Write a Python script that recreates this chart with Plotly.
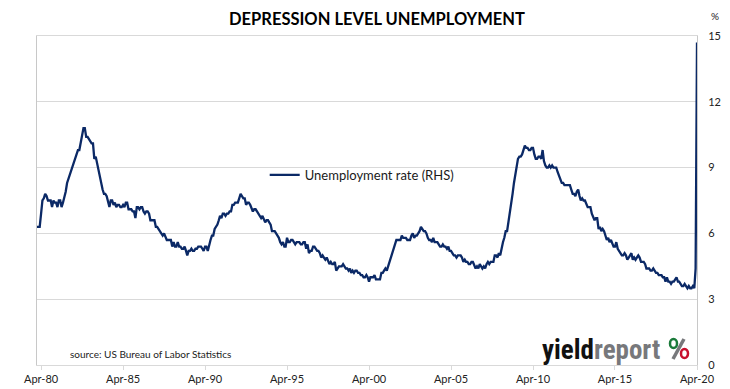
import pandas as pd
import plotly.graph_objects as go

# US unemployment rate, monthly, Jan 1980 - Apr 2020 (%)
u1980 = [6.3, 6.3, 6.3, 6.9, 7.5, 7.6, 7.8, 7.7, 7.5, 7.5, 7.5, 7.2]
u1981 = [7.5, 7.4, 7.4, 7.2, 7.5, 7.5, 7.2, 7.4, 7.6, 7.9, 8.3, 8.5]
u1982 = [8.6, 8.9, 9.0, 9.3, 9.4, 9.6, 9.8, 9.8, 10.1, 10.4, 10.8, 10.8]
u1983 = [10.4, 10.4, 10.3, 10.2, 10.1, 10.1, 9.4, 9.5, 9.2, 8.8, 8.5, 8.3]
u1984 = [8.0, 7.8, 7.8, 7.7, 7.4, 7.2, 7.5, 7.5, 7.3, 7.4, 7.2, 7.3]
u1985 = [7.3, 7.2, 7.2, 7.3, 7.2, 7.4, 7.4, 7.1, 7.1, 7.1, 7.0, 7.0]
u1986 = [6.7, 7.2, 7.2, 7.1, 7.2, 7.2, 7.0, 6.9, 7.0, 7.0, 6.9, 6.6]
u1987 = [6.6, 6.6, 6.6, 6.3, 6.3, 6.2, 6.1, 6.0, 5.9, 6.0, 5.8, 5.7]
u1988 = [5.7, 5.7, 5.7, 5.4, 5.6, 5.4, 5.4, 5.6, 5.4, 5.4, 5.3, 5.3]
u1989 = [5.4, 5.2, 5.0, 5.2, 5.2, 5.3, 5.2, 5.2, 5.3, 5.3, 5.4, 5.4]
u1990 = [5.4, 5.3, 5.2, 5.4, 5.4, 5.2, 5.5, 5.7, 5.9, 5.9, 6.2, 6.3]
u1991 = [6.4, 6.6, 6.8, 6.7, 6.9, 6.9, 6.8, 6.9, 6.9, 7.0, 7.0, 7.3]
u1992 = [7.3, 7.4, 7.4, 7.4, 7.6, 7.8, 7.7, 7.6, 7.6, 7.3, 7.4, 7.4]
u1993 = [7.3, 7.1, 7.0, 7.1, 7.1, 7.0, 6.9, 6.8, 6.7, 6.8, 6.6, 6.5]
u1994 = [6.6, 6.6, 6.5, 6.4, 6.1, 6.1, 6.1, 6.0, 5.9, 5.8, 5.6, 5.5]
u1995 = [5.6, 5.4, 5.4, 5.8, 5.6, 5.6, 5.7, 5.7, 5.6, 5.5, 5.6, 5.6]
u1996 = [5.6, 5.5, 5.5, 5.6, 5.6, 5.3, 5.5, 5.1, 5.2, 5.2, 5.4, 5.4]
u1997 = [5.3, 5.2, 5.2, 5.1, 4.9, 5.0, 4.9, 4.8, 4.9, 4.7, 4.6, 4.7]
u1998 = [4.6, 4.6, 4.7, 4.3, 4.4, 4.5, 4.5, 4.5, 4.6, 4.5, 4.4, 4.4]
u1999 = [4.3, 4.4, 4.2, 4.3, 4.2, 4.3, 4.3, 4.2, 4.2, 4.1, 4.1, 4.0]
u2000 = [4.0, 4.1, 4.0, 3.8, 4.0, 4.0, 4.0, 4.1, 3.9, 3.9, 3.9, 3.9]
u2001 = [4.2, 4.2, 4.3, 4.4, 4.3, 4.5, 4.6, 4.9, 5.0, 5.3, 5.5, 5.7]
u2002 = [5.7, 5.7, 5.7, 5.9, 5.8, 5.8, 5.8, 5.7, 5.7, 5.7, 5.9, 6.0]
u2003 = [5.8, 5.9, 5.9, 6.0, 6.1, 6.3, 6.2, 6.1, 6.1, 6.0, 5.8, 5.7]
u2004 = [5.7, 5.6, 5.8, 5.6, 5.6, 5.6, 5.5, 5.4, 5.4, 5.5, 5.4, 5.4]
u2005 = [5.3, 5.4, 5.2, 5.2, 5.1, 5.0, 5.0, 4.9, 5.0, 5.0, 5.0, 4.9]
u2006 = [4.7, 4.8, 4.7, 4.7, 4.6, 4.6, 4.7, 4.7, 4.5, 4.4, 4.5, 4.4]
u2007 = [4.6, 4.5, 4.4, 4.5, 4.4, 4.6, 4.7, 4.6, 4.7, 4.7, 4.7, 5.0]
u2008 = [5.0, 4.9, 5.1, 5.0, 5.4, 5.6, 5.8, 6.1, 6.1, 6.5, 6.8, 7.3]
u2009 = [7.8, 8.3, 8.7, 9.0, 9.4, 9.5, 9.5, 9.6, 9.8, 10.0, 9.9, 9.9]
u2010 = [9.8, 9.8, 9.9, 9.9, 9.6, 9.4, 9.4, 9.5, 9.5, 9.4, 9.8, 9.3]
u2011 = [9.1, 9.0, 9.0, 9.1, 9.0, 9.1, 9.0, 9.0, 9.0, 8.8, 8.6, 8.5]
u2012 = [8.3, 8.3, 8.2, 8.2, 8.2, 8.2, 8.2, 8.0, 7.8, 7.8, 7.7, 7.9]
u2013 = [8.0, 7.7, 7.5, 7.6, 7.5, 7.5, 7.3, 7.2, 7.2, 7.2, 6.9, 6.7]
u2014 = [6.6, 6.7, 6.7, 6.2, 6.3, 6.1, 6.2, 6.1, 5.9, 5.7, 5.8, 5.6]
u2015 = [5.7, 5.5, 5.4, 5.4, 5.6, 5.3, 5.2, 5.1, 5.0, 5.0, 5.1, 5.0]
u2016 = [4.8, 4.9, 5.0, 5.1, 4.8, 4.9, 4.8, 4.9, 5.0, 4.9, 4.7, 4.7]
u2017 = [4.7, 4.6, 4.4, 4.4, 4.4, 4.3, 4.3, 4.4, 4.3, 4.2, 4.2, 4.1]
u2018 = [4.1, 4.1, 4.0, 4.0, 3.8, 4.0, 3.8, 3.8, 3.7, 3.8, 3.8, 3.9]
u2019 = [4.0, 3.8, 3.8, 3.7, 3.6, 3.6, 3.7, 3.6, 3.5, 3.6, 3.5, 3.5]
u2020 = [3.6, 3.5, 4.4, 14.7]

years = [u1980, u1981, u1982, u1983, u1984, u1985, u1986, u1987, u1988, u1989,
         u1990, u1991, u1992, u1993, u1994, u1995, u1996, u1997, u1998, u1999,
         u2000, u2001, u2002, u2003, u2004, u2005, u2006, u2007, u2008, u2009,
         u2010, u2011, u2012, u2013, u2014, u2015, u2016, u2017, u2018, u2019, u2020]
rate = [v for yr in years for v in yr]
dates = pd.date_range("1980-01-01", periods=len(rate), freq="MS")

tick_vals = ["1980-04-01", "1985-04-01", "1990-04-01", "1995-04-01", "2000-04-01",
             "2005-04-01", "2010-04-01", "2015-04-01", "2020-04-01"]
tick_text = ["Apr-80", "Apr-85", "Apr-90", "Apr-95", "Apr-00",
             "Apr-05", "Apr-10", "Apr-15", "Apr-20"]

FONT = "Lato, 'Open Sans', sans-serif"
GRID = "#d9d9d9"

fig = go.Figure()
fig.add_trace(go.Scatter(x=dates, y=rate, mode="lines",
                         name="Unemployment rate (RHS)",
                         line=dict(color="#0b2966", width=2.3)))

fig.update_layout(
    width=730, height=389,
    margin=dict(l=37, r=33, t=36, b=24),
    paper_bgcolor="white", plot_bgcolor="white",
    font=dict(family=FONT, size=11, color="#222222"),
    title=dict(text="<b>DEPRESSION LEVEL UNEMPLOYMENT</b>", x=377 / 730, xanchor="center",
               y=1 - 19 / 389, yanchor="middle",
               font=dict(family=FONT, size=16.5, color="#000000")),
    showlegend=True,
    legend=dict(x=0.345, y=0.578, xanchor="left", yanchor="middle",
                bgcolor="rgba(0,0,0,0)", itemwidth=30,
                font=dict(size=13, color="#1a1a1a")),
    xaxis=dict(type="date", range=["1980-01-01", "2020-04-01"], automargin=False,
               tickmode="array", tickvals=tick_vals, ticktext=tick_text,
               showgrid=False, showline=True, linecolor=GRID, linewidth=1,
               mirror=True, ticks="outside", ticklen=4, tickcolor=GRID,
               tickfont=dict(size=11, color="#222222")),
    yaxis=dict(side="right", range=[0, 15], dtick=3, tick0=0, automargin=False,
               showgrid=True, gridcolor=GRID, gridwidth=1,
               showline=True, linecolor="#c8c8c8", mirror=True,
               zeroline=False, ticks="", ticklabelstandoff=8,
               tickfont=dict(size=11, color="#222222")),
)

fig.add_annotation(text="%", xref="paper", yref="paper", x=1.018, y=1.061,
                   xanchor="left", yanchor="middle", showarrow=False,
                   font=dict(size=10, color="#222222"))
fig.add_annotation(text="source: US Bureau of Labor Statistics", xref="paper", yref="paper",
                   x=0.047, y=0.033, xanchor="left", yanchor="middle", showarrow=False,
                   font=dict(size=10, color="#222222"))
fig.add_annotation(text="<b>yield</b><b><span style='color:#77787b'>report</span></b>",
                   xref="paper", yref="paper", x=0.762, y=0.045,
                   xanchor="left", yanchor="middle", showarrow=False,
                   font=dict(family="'Roboto Condensed', Roboto, sans-serif", size=27, color="#111111"))

def px(xp):
    return (xp - 37) / 660

def py(yp):
    return (365 - yp) / 329

# % logo glyph
fig.add_shape(type="line", xref="paper", yref="paper",
              x0=px(684), y0=py(339), x1=px(673), y1=py(359),
              line=dict(color="#77787b", width=3.5))
fig.add_shape(type="circle", xref="paper", yref="paper",
              x0=px(670), y0=py(348), x1=px(677), y1=py(339),
              line=dict(color="#1a7a3a", width=2.5), fillcolor="white")
fig.add_shape(type="circle", xref="paper", yref="paper",
              x0=px(681), y0=py(358), x1=px(688), y1=py(349),
              line=dict(color="#c8102e", width=2.5), fillcolor="white")

fig.write_html("out.html", config={"displayModeBar": False},
               post_script="document.body.style.margin='0';")
